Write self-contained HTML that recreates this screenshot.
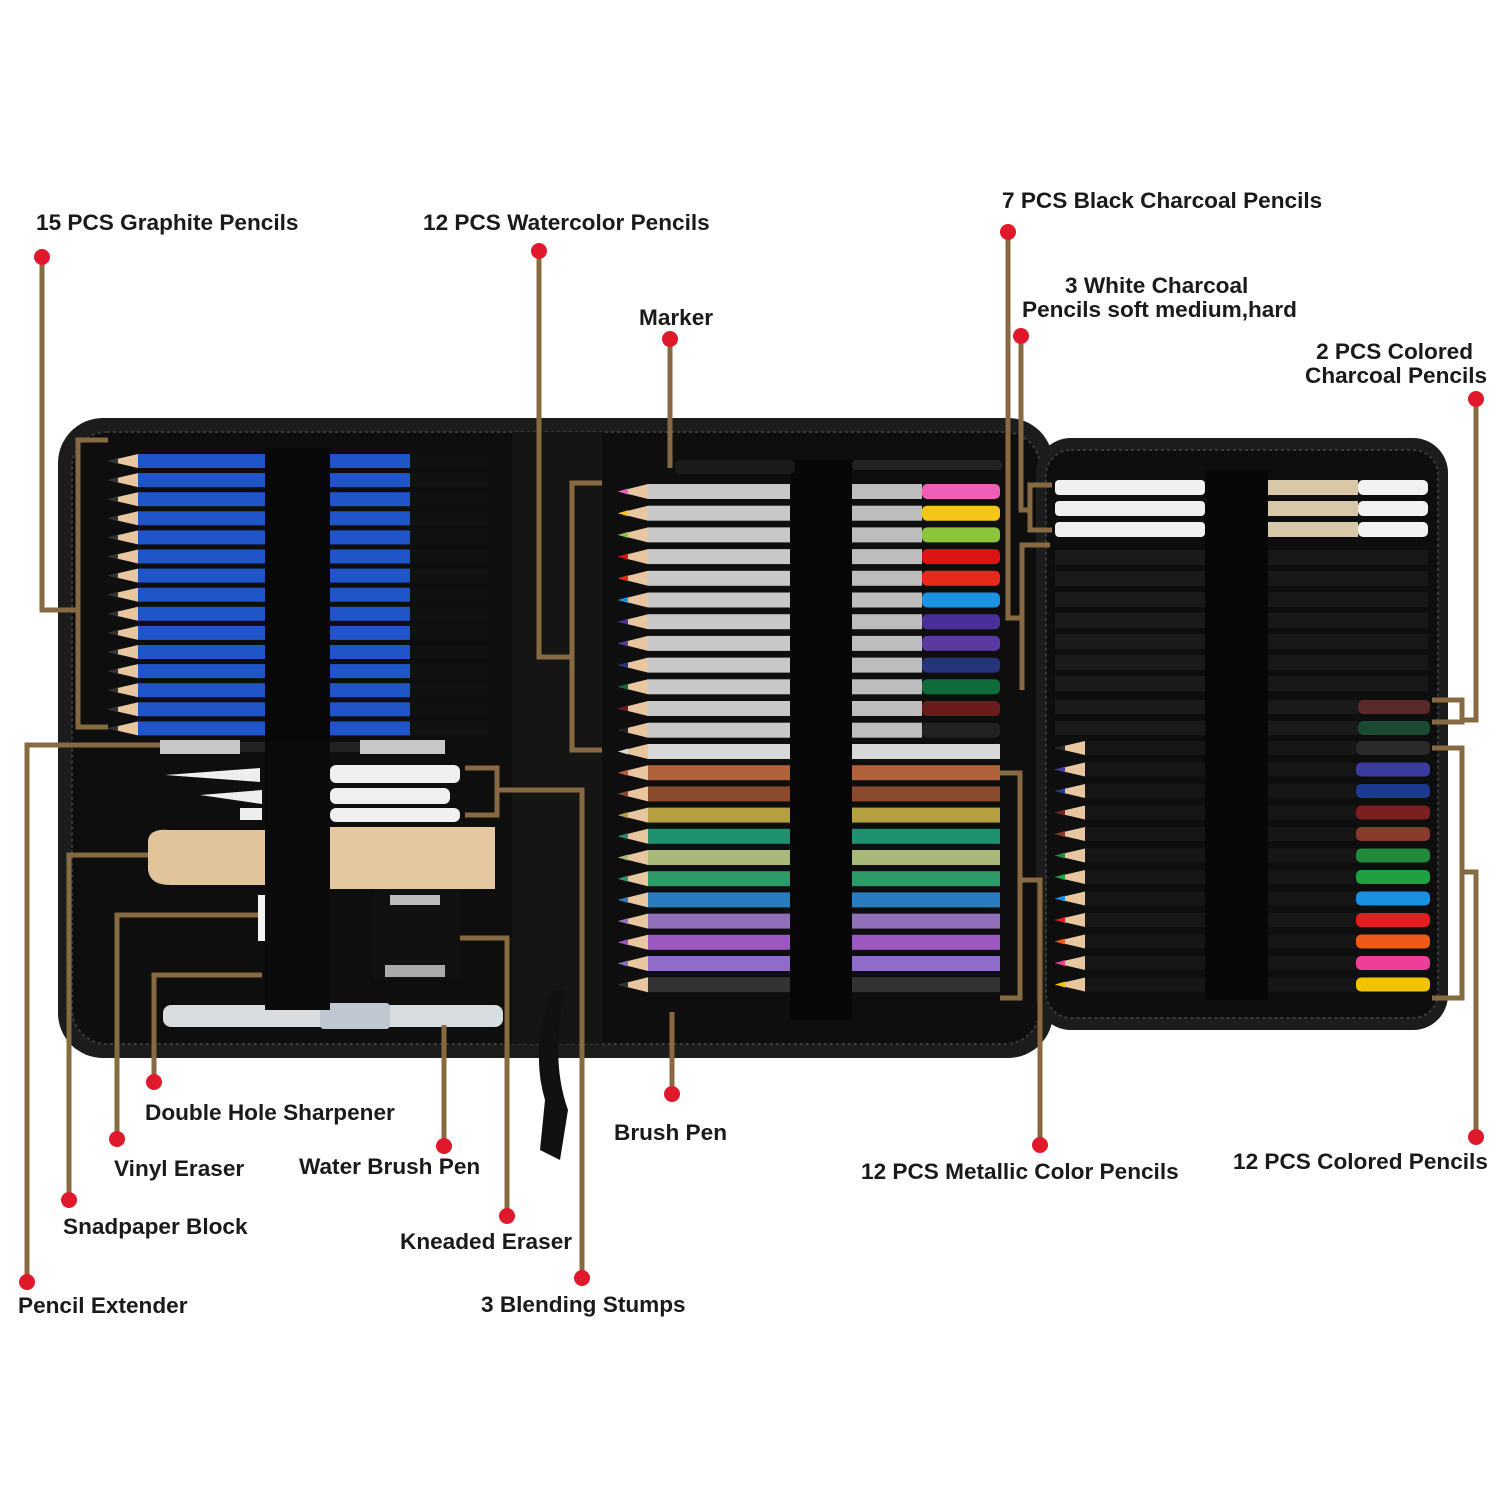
<!DOCTYPE html>
<html><head><meta charset="utf-8"><style>
html,body{margin:0;padding:0;background:#fff;width:1500px;height:1500px;overflow:hidden}
svg{display:block}
text{font-family:"Liberation Sans",sans-serif;font-weight:bold;font-size:22.6px;fill:#1a1a1a}
</style></head><body>
<svg id="s" width="1500" height="1500" xmlns="http://www.w3.org/2000/svg">
<rect width="1500" height="1500" fill="#fff"/>
<rect x="58" y="418" width="995" height="640" rx="45" fill="#1c1c1c"/>
<rect x="72" y="432" width="968" height="612" rx="35" fill="#0e0e0e" stroke="#3a3a3a" stroke-width="2" stroke-dasharray="3 3"/>
<rect x="512" y="432" width="90" height="612" fill="#151515"/>
<rect x="1036" y="438" width="412" height="592" rx="35" fill="#1c1c1c"/>
<rect x="1046" y="450" width="392" height="568" rx="25" fill="#0e0e0e" stroke="#3a3a3a" stroke-width="2" stroke-dasharray="3 3"/>
<g id="g"></g>
<path d="M552 990 Q530 1050 545 1100 L540 1150 L560 1160 L568 1110 Q550 1060 565 990Z" fill="#111"/>
<g id="lines" stroke="#876a42" stroke-width="5" fill="none"></g>
<g id="dots" fill="#e0182c"></g>
<text x="36" y="230">15 PCS Graphite Pencils</text>
<text x="423" y="230">12 PCS Watercolor Pencils</text>
<text x="639" y="325">Marker</text>
<text x="1002" y="208">7 PCS Black Charcoal Pencils</text>
<text x="1065" y="293">3 White Charcoal</text>
<text x="1022" y="317">Pencils soft medium,hard</text>
<text x="1473" y="359" text-anchor="end">2 PCS Colored</text>
<text x="1305" y="383">Charcoal Pencils</text>
<text x="145" y="1120">Double Hole Sharpener</text>
<text x="114" y="1176">Vinyl Eraser</text>
<text x="299" y="1174">Water Brush Pen</text>
<text x="614" y="1140">Brush Pen</text>
<text x="861" y="1179">12 PCS Metallic Color Pencils</text>
<text x="1233" y="1169">12 PCS Colored Pencils</text>
<text x="63" y="1234">Snadpaper Block</text>
<text x="400" y="1249">Kneaded Eraser</text>
<text x="18" y="1313">Pencil Extender</text>
<text x="481" y="1312">3 Blending Stumps</text>
</svg>
<script>
var NS="http://www.w3.org/2000/svg",g=document.getElementById('g');
function R(x,y,w,h,f,rx){var r=document.createElementNS(NS,'rect');r.setAttribute('x',x);r.setAttribute('y',y);r.setAttribute('width',w);r.setAttribute('height',h);r.setAttribute('fill',f);if(rx)r.setAttribute('rx',rx);g.appendChild(r);}
function P(d,f,p){var r=document.createElementNS(NS,'path');r.setAttribute('d',d);r.setAttribute('fill',f);(p||g).appendChild(r);}
function tip(x,y,h,c){P('M'+x+' '+(y+h/2)+' L'+(x+30)+' '+y+' L'+(x+30)+' '+(y+h)+'Z','#e8c6a0');P('M'+x+' '+(y+h/2)+' L'+(x+10)+' '+(y+h/2-3)+' L'+(x+10)+' '+(y+h/2+3)+'Z',c);}
for(var i=0;i<15;i++){var y=454+i*19.1;tip(108,y,14,'#333');R(138,y,127,14,'#1f55c8');R(330,y,80,14,'#1f55c8');R(410,y,78,14,'#111');}
R(265,448,65,290,'#080808');
var wc=['#ef5fb8','#f5c518','#8cc43c','#dd1414','#e52a1a','#1b93e0','#4a2f98','#5a3aa0','#27337a','#0f6b3a','#6a1c1c','#222'];
for(i=0;i<12;i++){y=484+i*21.7;tip(618,y,15,wc[i]);R(648,y,142,15,'#c8c8c8');R(852,y,70,15,'#bdbdbd');R(922,y,78,15,wc[i],5);}
var mc=['#d8d8d8','#b0623a','#8a4a2e','#b5a040','#1f9070','#a8b878','#2e9a6a','#2a7cc0','#9070b8','#9a58c0','#8f6cc8','#333'];
for(i=0;i<12;i++){y=744+i*21.2;tip(618,y,15,mc[i]);R(648,y,142,15,mc[i]);R(852,y,148,15,mc[i]);}
R(790,460,62,560,'#070707');
R(675,460,120,14,'#1a1a1a',5);R(852,460,150,10,'#222',4);
for(i=0;i<3;i++){y=480+i*21;R(1055,y,150,15,'#f0f0f0',4);R(1268,y,90,15,'#d8c8a8');R(1358,y,70,15,'#f2f2f2',5);}
for(i=0;i<7;i++){y=550+i*21;R(1055,y,150,15,'#1a1a1a');R(1268,y,160,15,'#181818');}
R(1055,700,150,14,'#1a1a1a');R(1268,700,90,14,'#1a1a1a');R(1358,700,72,14,'#5a2a2a',5);
R(1055,721,150,14,'#1a1a1a');R(1268,721,90,14,'#1a1a1a');R(1358,721,72,14,'#1a4a30',5);
var cc=['#2a2a2a','#3c3ca0','#1c3a90','#7a2020','#8a3a2a','#208a3a','#20a040','#1b8fe0','#e02020','#f05a18','#ef3e9a','#f2c400'];
for(i=0;i<12;i++){y=741+i*21.5;tip(1055,y,14,cc[i]);R(1085,y,120,14,'#161616');R(1268,y,88,14,'#161616');R(1356,y,74,14,cc[i],5);}
R(1205,470,63,530,'#070707');
R(160,740,80,14,'#c8c8c8');R(240,742,120,10,'#222');R(360,740,85,14,'#c8c8c8');
P('M165 775 L260 768 L260 782Z','#eee');R(330,765,130,18,'#f0f0f0',6);
P('M200 795 L262 790 L262 804Z','#eee');R(330,788,120,16,'#f0f0f0',6);
R(240,808,22,12,'#eee');R(330,808,130,14,'#f0f0f0',6);
P('M148 840 Q150 828 170 830 L265 830 L265 885 L170 885 Q150 885 148 870Z','#e2c49a');
R(330,827,165,62,'#e4c9a0');
R(258,895,72,46,'#f2f2f2');R(374,890,85,90,'#111');R(390,895,50,10,'#bbb');R(385,965,60,12,'#aaa');
R(270,950,60,45,'#222');
R(163,1005,340,22,'#d8dde2',8);R(320,1003,70,26,'#bfc8d0',4);
R(265,450,65,560,'#080808');
R(265,740,65,270,'#0a0a0a');
var L=document.getElementById('lines'),D=document.getElementById('dots');
function pl(pts){var p=document.createElementNS(NS,'polyline');p.setAttribute('points',pts);L.appendChild(p);}
function dot(x,y){var c=document.createElementNS(NS,'circle');c.setAttribute('cx',x);c.setAttribute('cy',y);c.setAttribute('r',8);D.appendChild(c);}
pl('42,257 42,610 78,610');pl('108,440 78,440 78,727 108,727');dot(42,257);
pl('539,251 539,657 572,657');pl('602,483 572,483 572,750 602,750');dot(539,251);
pl('670,339 670,468');dot(670,339);
pl('1008,232 1008,618 1022,618');pl('1050,545 1022,545 1022,690');dot(1008,232);
pl('1021,336 1021,510 1030,510');pl('1052,485 1030,485 1030,530 1052,530');dot(1021,336);
pl('1476,399 1476,720 1462,720');pl('1432,700 1462,700 1462,722 1432,722');dot(1476,399);
pl('1476,1137 1476,872 1462,872');pl('1432,748 1462,748 1462,998 1432,998');dot(1476,1137);
pl('1040,1145 1040,880 1020,880');pl('1000,773 1020,773 1020,998 1000,998');dot(1040,1145);
pl('672,1094 672,1012');dot(672,1094);
pl('154,1082 154,975 262,975');dot(154,1082);
pl('117,1139 117,915 258,915');dot(117,1139);
pl('69,1200 69,855 148,855');dot(69,1200);
pl('27,1282 27,745 160,745');dot(27,1282);
pl('444,1146 444,1025');dot(444,1146);
pl('507,1216 507,938 460,938');dot(507,1216);
pl('582,1278 582,790 497,790');pl('465,768 497,768 497,815 465,815');dot(582,1278);
</script>
</body></html>
